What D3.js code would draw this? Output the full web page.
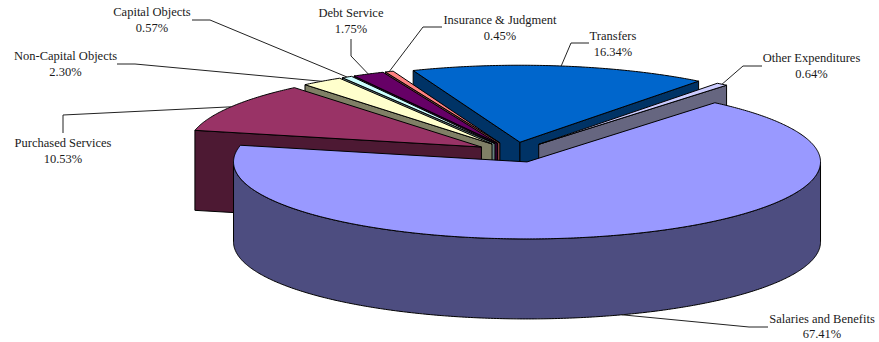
<!DOCTYPE html>
<html>
<head>
<meta charset="utf-8">
<script src="https://cdn.jsdelivr.net/npm/d3@7/dist/d3.min.js"></script>
<style>
  html, body { margin: 0; padding: 0; background: #fff; }
  svg { display: block; }
  text { font-family: "Liberation Serif", serif; font-size: 12.5px; fill: #1a1a1a; text-anchor: middle; }
</style>
</head>
<body>
<svg id="chart" width="879" height="342"></svg>
<script>
// Budget shares, clockwise from the first slice
const categories = ["Salaries and Benefits", "Purchased Services", "Non-Capital Objects", "Capital Objects",
                    "Debt Service", "Insurance & Judgment", "Transfers", "Other Expenditures"];
const shares = [67.41, 10.53, 2.30, 0.57, 1.75, 0.45, 16.34, 0.64];
const shareLabels = ["67.41%", "10.53%", "2.30%", "0.57%", "1.75%", "0.45%", "16.34%", "0.64%"];

// Face and wall colours per slice
const topColors  = ["#9999FF", "#993366", "#FFFFCC", "#CCFFFF", "#660066", "#FF8080", "#0066CC", "#CCCCFF"];
const sideColors = ["#4D4D80", "#4D1933", "#808066", "#668080", "#330033", "#804040", "#003366", "#666680"];

// Label placement: text centre, the first line's baseline, and the elbow of each leader
const labelX   = [822, 63, 65.5, 152, 351, 500, 613, 811.5];
const labelY   = [322.5, 147, 60, 16, 17, 24, 40, 62];
const leaderPts = [
  [[768, 327], [749, 327]],
  [[63, 133], [63, 115]],
  [[117, 64], [135, 64]],
  [[192, 20], [210, 20]],
  [[351, 39], [351, 56]],
  [[442, 27], [423, 27]],
  [[589, 43], [571, 43]],
  [[762, 66], [743, 66]]
];

// Oblique projection of the pie
const cx = 514.5, cy = 152.3, rx = 293.5, ry = 77, depth = 80, explode = 0.132;
const sx = d3.scaleLinear().domain([-1, 1]).range([cx - rx, cx + rx]);
const sy = d3.scaleLinear().domain([-1, 1]).range([cy - ry, cy + ry]);

const startDeg = 39.8;
const pie = d3.pie().sort(null)
  .startAngle(startDeg * Math.PI / 180)
  .endAngle((startDeg + 360) * Math.PI / 180);
const slices = pie(shares).map((d, i) => {
  const mid = (d.startAngle + d.endAngle) / 2;
  return { ...d, i, mid, ox: explode * Math.sin(mid), oy: -explode * Math.cos(mid) };
});

// Slice-local point at radius r and clockwise angle a, dropped by z
function pt(s, a, r, z = 0) {
  return [sx(s.ox + r * Math.sin(a)), sy(s.oy - r * Math.cos(a)) + z];
}
function arcPts(s, a0, a1, z = 0) {
  const n = Math.max(2, Math.ceil((a1 - a0) / 0.01));
  return d3.range(n + 1).map(k => pt(s, a0 + (a1 - a0) * k / n, 1, z));
}

const svg = d3.select("#chart");
const path = d3.line();

// Back slices first, the front slice last
const painted = slices.slice().sort((a, b) => Math.cos(b.mid) - Math.cos(a.mid));

const g = svg.selectAll("g.slice").data(painted).join("g").attr("class", "slice")
  .attr("stroke", "#000").attr("stroke-width", 1).attr("stroke-linejoin", "round");

g.each(function (s) {
  const sel = d3.select(this);
  const side = sideColors[s.i];
  const wall = pts => sel.append("path").attr("d", path(pts) + "Z").attr("fill", side);
  const tip = pt(s, 0, 0), tipLow = pt(s, 0, 0, depth);
  // Radial walls that face the viewer
  if (Math.sin(s.startAngle) <= 0) {
    wall([tip, pt(s, s.startAngle, 1), pt(s, s.startAngle, 1, depth), tipLow]);
  }
  if (Math.sin(s.endAngle) > 0) {
    wall([tip, pt(s, s.endAngle, 1), pt(s, s.endAngle, 1, depth), tipLow]);
  }
  // Outer wall over the front half of the rim
  const a0 = Math.max(s.startAngle, Math.PI / 2);
  const a1 = Math.min(s.endAngle, 3 * Math.PI / 2);
  if (a1 > a0) {
    wall(arcPts(s, a0, a1).concat(arcPts(s, a0, a1, depth).reverse()));
  }
  // Top face
  sel.append("path")
    .attr("d", path([tip].concat(arcPts(s, s.startAngle, s.endAngle))) + "Z")
    .attr("fill", topColors[s.i]);
});

// Leaders run from the label elbow to the middle of each slice's rim
svg.append("g").selectAll("path").data(slices).join("path")
  .attr("fill", "none").attr("stroke", "#222").attr("stroke-width", 1)
  .attr("d", s => {
    const front = Math.cos(s.mid) < 0;
    return path(leaderPts[s.i].concat([pt(s, s.mid, 1, front ? depth : 0)]));
  });

const labels = svg.append("g").selectAll("text").data(slices).join("text")
  .attr("x", s => labelX[s.i]).attr("y", s => labelY[s.i]);
labels.append("tspan").attr("x", s => labelX[s.i]).text(s => categories[s.i]);
labels.append("tspan").attr("x", s => labelX[s.i]).attr("dy", 15.5).text(s => shareLabels[s.i]);
</script>
</body>
</html>
